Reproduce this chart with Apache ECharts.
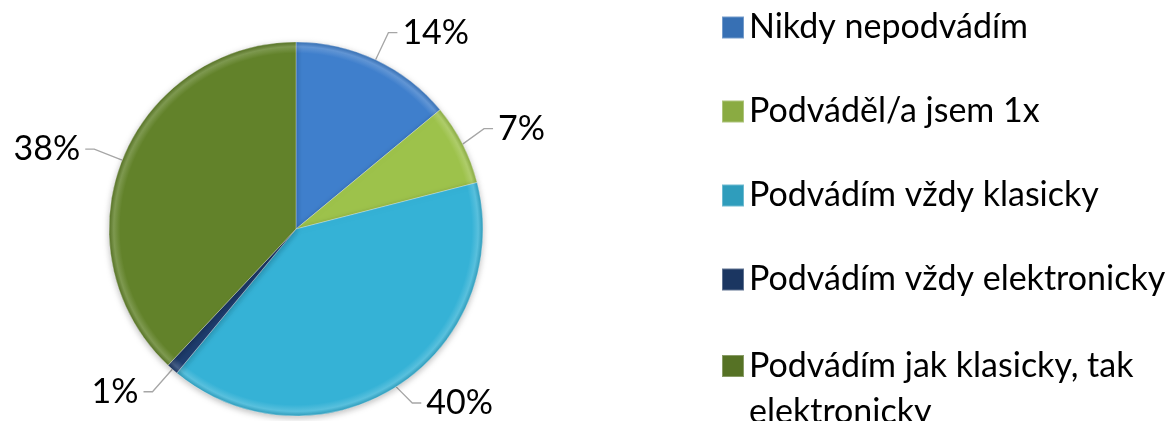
<!DOCTYPE html>
<html>
<head>
<meta charset="utf-8">
<script src="https://cdn.jsdelivr.net/npm/echarts@6/dist/echarts.min.js"></script>
<style>
html,body{margin:0;padding:0;background:#fff;}
#chart{width:1173px;height:421px;}
</style>
</head>
<body>
<div id="chart"></div>
<script>
var categories = [
  'Nikdy nepodvádím',
  'Podváděl/a jsem 1x',
  'Podvádím vždy klasicky',
  'Podvádím vždy elektronicky',
  'Podvádím jak klasicky, tak elektronicky'
];
var values = [14, 7, 40, 1, 38];
var palette = ['#3F7FCC', '#9DC24B', '#35B2D6', '#1F3D6E', '#62822A'];

var CX = 296, CY = 229, R = 187;
function lighten(hex, f) {
  var n = parseInt(hex.slice(1), 16);
  var r = (n >> 16) & 255, g = (n >> 8) & 255, b = n & 255;
  r = Math.round(r + (255 - r) * f); g = Math.round(g + (255 - g) * f); b = Math.round(b + (255 - b) * f);
  return 'rgb(' + r + ',' + g + ',' + b + ')';
}
function darken(hex, f) {
  var n = parseInt(hex.slice(1), 16);
  var r = (n >> 16) & 255, g = (n >> 8) & 255, b = n & 255;
  return 'rgb(' + Math.round(r * (1 - f)) + ',' + Math.round(g * (1 - f)) + ',' + Math.round(b * (1 - f)) + ')';
}
function grad(c) {
  return {
    type: 'radial', x: CX, y: CY, r: R, global: true,
    colorStops: [
      {offset: 0, color: c},
      {offset: 0.94, color: c},
      {offset: 0.975, color: lighten(c, 0.18)},
      {offset: 1, color: darken(c, 0.12)}
    ]
  };
}

var pieData = categories.map(function (name, i) {
  return {
    name: name,
    value: values[i],
    itemStyle: {color: grad(palette[i])}
  };
});

var chart = echarts.init(document.getElementById('chart'), null, {renderer: 'canvas'});
var textFont = 'Lato, "Noto Sans", sans-serif';
chart.setOption({
  animation: false,
  backgroundColor: '#ffffff',
  legend: [{
    orient: 'vertical',
    left: 721,
    top: 5,
    padding: 0,
    itemWidth: 22,
    itemHeight: 22,
    itemGap: 39,
    icon: 'rect',
    data: categories.slice(0, 4),
    textStyle: {fontFamily: textFont, fontSize: 34, color: '#000', lineHeight: 45}
  }, {
    orient: 'vertical',
    left: 721,
    top: 297,
    padding: 0,
    itemWidth: 22,
    itemHeight: 22,
    icon: 'rect',
    data: [categories[4]],
    formatter: function (name) {
      return ' \n' + name.replace(', tak ', ', tak\n');
    },
    textStyle: {fontFamily: textFont, fontSize: 34, color: '#000', lineHeight: 46}
  }],
  series: [{
    type: 'pie',
    center: [CX, CY],
    radius: R,
    startAngle: 90,
    clockwise: true,
    data: pieData,
    itemStyle: {borderColor: 'rgba(255,255,255,0.3)', borderWidth: 1, shadowBlur: 6, shadowColor: 'rgba(0,0,0,0.25)', shadowOffsetY: 2},
    label: {
      show: true,
      position: 'outside',
      formatter: '{c}%',
      fontFamily: textFont,
      fontSize: 34,
      color: '#000',
      distanceToLabelLine: 5
    },
    labelLine: {
      show: true,
      length: 30,
      length2: 9,
      lineStyle: {color: '#A6A6A6', width: 1.3}
    },
    emphasis: {disabled: true}
  }]
});
</script>
</body>
</html>
